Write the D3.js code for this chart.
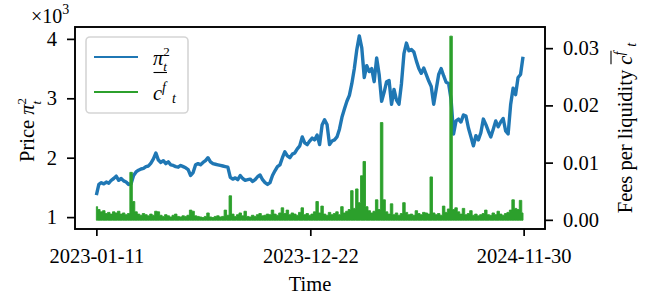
<!DOCTYPE html>
<html>
<head>
<meta charset="utf-8">
<script src="https://cdn.jsdelivr.net/npm/d3@7"></script>
<style>
  body { margin: 0; background: #fff; }
  text { font-family: "Liberation Serif", "Times New Roman", serif; }
</style>
</head>
<body>
<svg id="chart" width="662" height="301"></svg>
<script>
// price pi_t^2, one value every 4 days from 2023-01-11
const price = [
  1370, 1550, 1580, 1560, 1590, 1570, 1620, 1650, 1690, 1620,
  1650, 1610, 1590, 1550, 1560, 1700, 1760, 1790, 1810, 1820,
  1850, 1860, 1910, 1980, 2080, 1960, 1920, 1950, 1900, 1930,
  1880, 1870, 1850, 1840, 1870, 1850, 1830, 1800, 1700, 1750,
  1880, 1900, 1880, 1920, 1950, 2000, 1930, 1900, 1890, 1880,
  1870, 1860, 1850, 1840, 1670, 1640, 1660, 1630, 1700, 1650,
  1620, 1630, 1640, 1600, 1630, 1680, 1710, 1630, 1580, 1550,
  1580, 1700, 1780, 1850, 1880, 2000, 2100, 2030, 2000, 2060,
  2080, 2150, 2200, 2350, 2250, 2220, 2280, 2330, 2300, 2380,
  2220, 2550, 2640, 2560, 2220, 2280, 2300, 2350, 2480, 2680,
  2820, 2950, 3050, 3250, 3500, 3820, 4050, 3850, 3350, 3550,
  3450, 3500, 3280, 3680, 3400, 2950, 3100, 3280, 3300, 2900,
  3150, 2970, 2900, 3250, 3750, 3930, 3800, 3820, 3780, 3630,
  3500, 3420, 3510, 3400, 3290, 3200, 2900, 3150, 3400, 3500,
  3380, 3270, 3250, 2980, 2400, 2620, 2650, 2600, 2720, 2700,
  2500, 2350, 2200, 2370, 2300, 2420, 2650, 2560, 2450, 2350,
  2480, 2620, 2520, 2600, 2660, 2450, 2400, 2890, 3170, 3060,
  3350, 3400, 3700
];

// fees per liquidity, max over each 4-day step
const fees = [
  0.0023, 0.0018, 0.0014, 0.0016, 0.0011, 0.0013, 0.0010, 0.0014, 0.0012, 0.0015,
  0.0010, 0.0012, 0.0009, 0.0011, 0.0083, 0.0032, 0.0014, 0.0010, 0.0008, 0.0011,
  0.0009, 0.0007, 0.0010, 0.0008, 0.0015, 0.0014, 0.0008, 0.0006, 0.0009, 0.0007,
  0.0005, 0.0008, 0.0010, 0.0006, 0.0005, 0.0007, 0.0006, 0.0008, 0.0017, 0.0015,
  0.0007, 0.0006, 0.0005, 0.0004, 0.0006, 0.0012, 0.0005, 0.0004, 0.0006, 0.0007,
  0.0005, 0.0006, 0.0017, 0.0008, 0.0042, 0.0010, 0.0006, 0.0009, 0.0012, 0.0007,
  0.0015, 0.0006, 0.0005, 0.0008, 0.0006, 0.0009, 0.0011, 0.0007, 0.0008, 0.0010,
  0.0009, 0.0017, 0.0010, 0.0008, 0.0012, 0.0021, 0.0011, 0.0017, 0.0009, 0.0012,
  0.0010, 0.0008, 0.0013, 0.0021, 0.0009, 0.0011, 0.0008, 0.0010, 0.0014, 0.0032,
  0.0012, 0.0024, 0.0010, 0.0008, 0.0013, 0.0009, 0.0011, 0.0014, 0.0009, 0.0023,
  0.0012, 0.0015, 0.0018, 0.0051, 0.0020, 0.0054, 0.0030, 0.0077, 0.0102, 0.0023,
  0.0016, 0.0012, 0.0015, 0.0035, 0.0018, 0.0170, 0.0035, 0.0014, 0.0010, 0.0028,
  0.0009, 0.0012, 0.0008, 0.0011, 0.0030, 0.0013, 0.0009, 0.0010, 0.0008, 0.0016,
  0.0011, 0.0009, 0.0013, 0.0012, 0.0010, 0.0075, 0.0012, 0.0009, 0.0011, 0.0008,
  0.0024, 0.0013, 0.0019, 0.0321, 0.0018, 0.0021, 0.0014, 0.0010, 0.0020, 0.0009,
  0.0011, 0.0016, 0.0008, 0.0010, 0.0007, 0.0009, 0.0011, 0.0017, 0.0009, 0.0008,
  0.0012, 0.0009, 0.0015, 0.0010, 0.0008, 0.0011, 0.0013, 0.0017, 0.0035, 0.0020,
  0.0018, 0.0034, 0.0012
];

const startDay = "2023-01-11";
const stepDays = 4;
const timeTicks = ["2023-01-11", "2023-12-22", "2024-11-30"];
const priceTicks = [1000, 2000, 3000, 4000];
const feeTicks = [0, 0.01, 0.02, 0.03];

const blue = "#1f77b4", green = "#2ca02c";
const mLeft = 75, mRight = 545, mTop = 27, mBottom = 229;
const fs = 20.5;

const svg = d3.select("#chart");
const parse = d3.utcParse("%Y-%m-%d");
const t0 = parse(startDay);
const tEnd = parse(timeTicks[2]);
const dates = price.map((d, i) => d3.utcDay.offset(t0, i * stepDays));
const pad = (tEnd - t0) * 0.05;

const x = d3.scaleUtc()
  .domain([new Date(+t0 - pad), new Date(+tEnd + pad)])
  .range([mLeft, mRight]);
const y = d3.scaleLinear().domain([800, 4200]).range([mBottom, mTop]);
const y2 = d3.scaleLinear().domain([-0.0016, 0.0337]).range([mBottom, mTop]);

// price line
svg.append("path")
  .datum(price)
  .attr("fill", "none")
  .attr("stroke", blue)
  .attr("stroke-width", 3.4)
  .attr("stroke-linejoin", "round")
  .attr("d", d3.line().x((d, i) => x(dates[i])).y(d => y(d)));

// fees: dense series, drawn as a stepped band
svg.append("path")
  .datum(fees)
  .attr("fill", green)
  .attr("stroke", green)
  .attr("stroke-width", 0.9)
  .attr("d", d3.area()
    .curve(d3.curveStep)
    .x((d, i) => x(dates[i]))
    .y0(y2(0) + 0.4)
    .y1(d => y2(d)));

// axes
function styleAxis(g) {
  g.select(".domain").remove();
  g.selectAll(".tick line").attr("stroke", "#000").attr("stroke-width", 1.7);
  g.selectAll(".tick text").attr("fill", "#000")
    .style("font-family", '"Liberation Serif", serif').style("font-size", fs + "px");
}

svg.append("g")
  .attr("transform", `translate(0,${mBottom})`)
  .call(d3.axisBottom(x)
    .tickValues(timeTicks.map(parse))
    .tickFormat(d3.utcFormat("%Y-%m-%d"))
    .tickSize(7).tickPadding(12.4))
  .call(styleAxis);

svg.append("g")
  .attr("transform", `translate(${mLeft},0)`)
  .call(d3.axisLeft(y)
    .tickValues(priceTicks)
    .tickFormat(d => d / 1000)
    .tickSize(8).tickPadding(10))
  .call(styleAxis);

svg.append("g")
  .attr("transform", `translate(${mRight},0)`)
  .call(d3.axisRight(y2)
    .tickValues(feeTicks)
    .tickFormat(d3.format(".2f"))
    .tickSize(8).tickPadding(10))
  .call(styleAxis);

// frame
svg.append("rect")
  .attr("x", mLeft).attr("y", mTop)
  .attr("width", mRight - mLeft).attr("height", mBottom - mTop)
  .attr("fill", "none").attr("stroke", "#000").attr("stroke-width", 1.9);

// offset text x10^3
const off = svg.append("text").attr("x", 31).attr("y", 23).style("font-size", "20px");
off.append("tspan").text("×10");
off.append("tspan").attr("dy", -9).style("font-size", "14px").text("3");

// x label
svg.append("text")
  .attr("x", (mLeft + mRight) / 2).attr("y", 291)
  .attr("text-anchor", "middle").style("font-size", fs + "px")
  .text("Time");

// pi_t^2 with stacked sub/superscript
function piLabel(t) {
  t.append("tspan").style("font-style", "italic").text("π");
  t.append("tspan").style("font-style", "italic").style("font-size", "13px").attr("dy", 6.5).text("t");
  t.append("tspan").style("font-size", "13px").attr("dx", -3.6).attr("dy", -15).text("2");
}

// left y label
const yl = svg.append("text")
  .attr("transform", `translate(34,130) rotate(-90)`)
  .attr("text-anchor", "middle").style("font-size", fs + "px");
yl.append("tspan").text("Price ");
piLabel(yl);

// right y label with overline on c^f
const rg = svg.append("g").attr("transform", `translate(632,128) rotate(-90)`);
const rl = rg.append("text").attr("text-anchor", "middle").style("font-size", fs + "px");
rl.append("tspan").text("Fees per liquidity ");
rl.append("tspan").style("font-style", "italic").text("c");
rl.append("tspan").style("font-style", "italic").style("font-size", "14px").attr("dy", -8).text("f");
rl.append("tspan").style("font-style", "italic").style("font-size", "14px").attr("dx", 5).attr("dy", 12).text("t");
{
  const n = rl.node();
  const ec = n.getExtentOfChar(19), ef = n.getExtentOfChar(20);
  rg.append("line")
    .attr("x1", ec.x + 0.5).attr("x2", ef.x + ef.width + 1)
    .attr("y1", -21).attr("y2", -21)
    .attr("stroke", "#000").attr("stroke-width", 1.1);
}

// legend
const lg = svg.append("g");
lg.append("rect")
  .attr("x", 86).attr("y", 37).attr("width", 102).attr("height", 76).attr("rx", 4)
  .attr("fill", "#fff").attr("fill-opacity", 0.8)
  .attr("stroke", "#d5d5d5").attr("stroke-width", 1.6);
lg.append("line").attr("x1", 94).attr("x2", 138).attr("y1", 57).attr("y2", 57)
  .attr("stroke", blue).attr("stroke-width", 2);
lg.append("line").attr("x1", 94).attr("x2", 138).attr("y1", 92).attr("y2", 92)
  .attr("stroke", green).attr("stroke-width", 2);

const l1 = lg.append("text").attr("x", 153).attr("y", 64.5).style("font-size", fs + "px");
piLabel(l1);

const l2 = lg.append("text").attr("x", 153).attr("y", 100).style("font-size", fs + "px");
l2.append("tspan").style("font-style", "italic").text("c");
l2.append("tspan").style("font-style", "italic").style("font-size", "14px").attr("dy", -8).text("f");
l2.append("tspan").style("font-style", "italic").style("font-size", "14px").attr("dx", 6).attr("dy", 11).text("t");
{
  const n = l2.node();
  const ec = n.getExtentOfChar(0), ef = n.getExtentOfChar(1);
  lg.append("line")
    .attr("x1", ec.x + 0.5).attr("x2", ef.x + ef.width + 1)
    .attr("y1", 72.5).attr("y2", 72.5)
    .attr("stroke", "#000").attr("stroke-width", 1.1);
}
</script>
</body>
</html>
